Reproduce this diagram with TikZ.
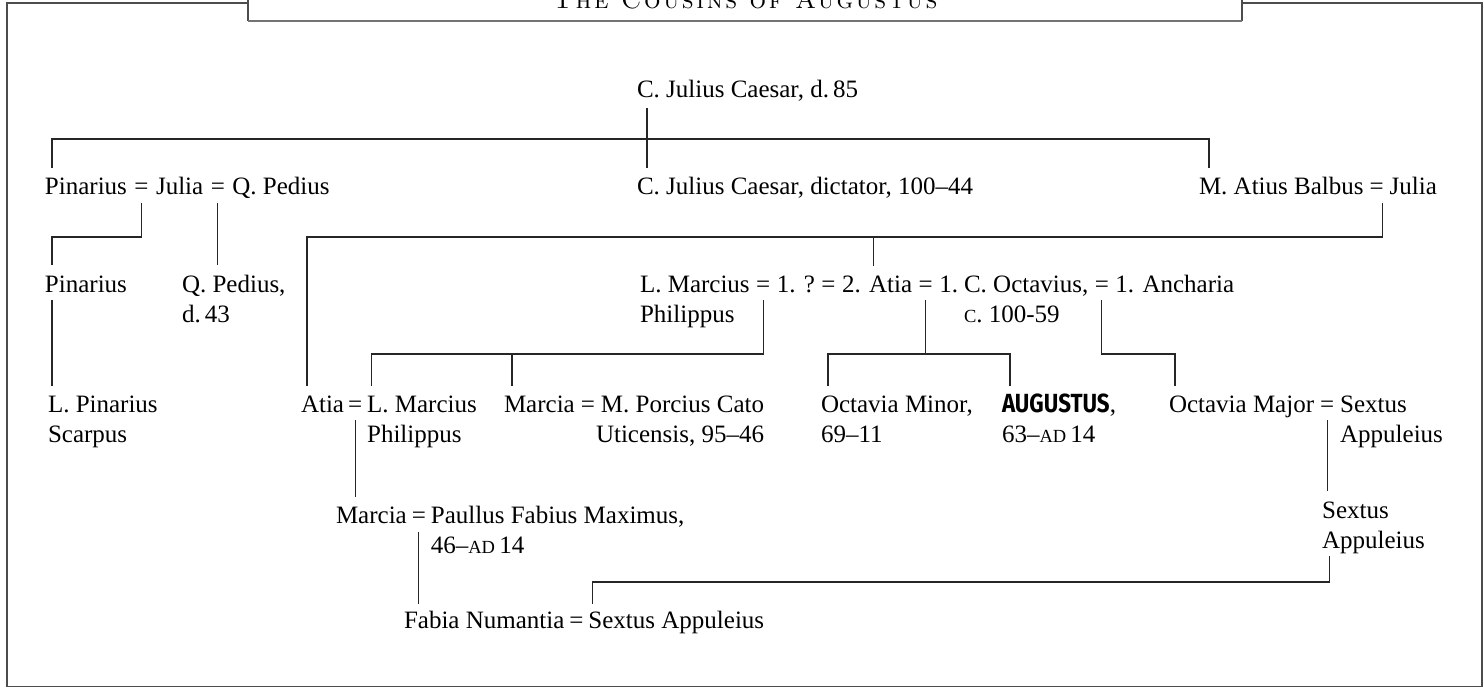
\documentclass[tikz,border=0pt]{standalone}
\usepackage{fontspec}
\setmainfont{Liberation Serif}
\newfontfamily\augfont{Fira Sans}[Scale=1.05, FakeStretch=0.85]
\newfontfamily\titlefont{lmromancaps10-regular}[Extension=.otf, LetterSpace=10]
\newcommand\treefont{\fontsize{25}{30.5}\selectfont}
% small capitals for era marks and circa
\newcommand\smc[1]{{\fontsize{18.5}{20}\selectfont #1}}
% two-line entries, first baseline on the node's base
\newcommand\two[2]{\begin{tabular}[t]{@{}l@{}}#1\\#2\end{tabular}}
\newcommand\twor[2]{\begin{tabular}[t]{@{}r@{}}#1\\#2\end{tabular}}
\begin{document}
\begin{tikzpicture}[x=1pt,y=-1pt,
  txt/.style={anchor=base west, inner sep=0pt, outer sep=0pt, font=\treefont},
  ln/.style={draw=black!85, line width=1.1pt},
  frm/.style={draw=black!70, line width=1.2pt},
  bar/.style={draw=black!55, line width=2pt}]
\useasboundingbox (0,0) rectangle (1484,688);
\clip (0,0) rectangle (1484,688);

% frame and title tab
\draw[frm] (248,3) -- (7,3) -- (7,686.5) -- (1482,686.5) -- (1482,3) -- (1242,3);
\draw[frm] (248,-5) -- (248,20.5);
\draw[frm] (1242,-5) -- (1242,20.5);
\draw[bar] (248,20.5) -- (1242,20.5);
\node[anchor=base, inner sep=0pt] (title) at (745,9)
  {\titlefont\fontsize{26}{30}\selectfont The Cousins of Augustus};

% generation 0
\node[txt] (cjc) at (637,97) {C. Julius Caesar, d.\,85};

% generation 1
\node[txt] (pinA) at (45,194) {Pinarius};
\node[txt] (eqPJ) at ([xshift=7.5pt]pinA.base east) {=};
\node[txt] (juliaA) at ([xshift=7.5pt]eqPJ.base east) {Julia};
\node[txt] (eqJQ) at ([xshift=7.5pt]juliaA.base east) {=};
\node[txt] (qpA) at ([xshift=7.5pt]eqJQ.base east) {Q. Pedius};
\node[txt] (dict) at (637,194) {C. Julius Caesar, dictator, 100--44};
\node[txt] (balbus) at (1199,194) {M. Atius Balbus};
\node[txt] (eqBJ) at ([xshift=6pt]balbus.base east) {=};
\node[txt] (juliaB) at ([xshift=6pt]eqBJ.base east) {Julia};

% generation 2
\node[txt] (pinB) at (45,292) {Pinarius};
\node[txt] (qpB) at (182,292) {\two{Q. Pedius,}{d.\,43}};
\node[txt] (philA) at (640,292) {\two{L. Marcius}{Philippus}};
\node[txt] (eqL1) at ([xshift=6.5pt]philA.base east) {=};
\node[txt] (anon) at ([xshift=6.5pt]eqL1.base east) {1. ?};
\node[txt] (eqL2) at ([xshift=6.5pt]anon.base east) {=};
\node[txt] (atiaB) at ([xshift=6.5pt]eqL2.base east) {2. Atia};
\node[txt] (eqAO) at ([xshift=6.5pt]atiaB.base east) {=};
\node[txt] (octN) at ([xshift=6.5pt]eqAO.base east) {1.};
\node[txt] (octB) at ([xshift=6pt]octN.base east) {\two{C. Octavius,}{\smc{C}. 100-59}};
\node[txt] (eqOA) at ([xshift=6.5pt]octB.base east) {=};
\node[txt] (anch) at ([xshift=6.5pt]eqOA.base east) {1. Ancharia};

% generation 3
\node[txt] (lpin) at (48,412) {\two{L. Pinarius}{Scarpus}};
\node[txt] (atiaC) at (301,412) {Atia};
\node[txt] (eqAP) at ([xshift=4pt]atiaC.base east) {=};
\node[txt] (philB) at ([xshift=5pt]eqAP.base east) {\two{L. Marcius}{Philippus}};
\node[txt] (marA) at (504,412) {Marcia};
\node[txt] (eqMC) at ([xshift=6pt]marA.base east) {=};
\node[txt] (cato) at ([xshift=6pt]eqMC.base east)
  {\twor{M. Porcius Cato}{\makebox[0pt][r]{Uticensis, 95--46}}};
\node[txt] (omin) at (821,412) {\two{Octavia Minor,}{69--11}};
\node[txt] (aug) at (1002,412) {\two{{\augfont\bfseries AUGUSTUS},}{63--\smc{AD}\,14}};
\node[txt] (omaj) at (1169,412) {Octavia Major};
\node[txt] (eqOS) at ([xshift=6pt]omaj.base east) {=};
\node[txt] (sexA) at ([xshift=6pt]eqOS.base east) {\two{Sextus}{Appuleius}};

% generation 4
\node[txt] (marB) at (336,523) {Marcia};
\node[txt] (eqMP) at ([xshift=5pt]marB.base east) {=};
\node[txt] (paul) at ([xshift=5pt]eqMP.base east) {\two{Paullus Fabius Maximus,}{46--\smc{AD}\,14}};
\path (eqOS.base) ++(-5,106) node[txt] (sexB) {\two{Sextus}{Appuleius}};

% generation 5
\node[txt] (fabia) at (404,628) {Fabia Numantia};
\node[txt] (eqFS) at ([xshift=5pt]fabia.base east) {=};
\node[txt] (sexC) at ([xshift=5pt]eqFS.base east) {Sextus Appuleius};

% descent lines: generation 0 to 1
\draw[ln] ([xshift=10pt,yshift=-11pt]cjc.base west) -- ([xshift=10pt,yshift=26pt]dict.base west);
\draw[ln] ([xshift=7pt,yshift=26pt]pinA.base west) -- ++(0,-29) -| ([xshift=10pt,yshift=26pt]balbus.base west);

% generation 1 to 2
\draw[ln] ([yshift=-9pt]eqPJ.base) -- ++(0,34) -| ([xshift=7pt,yshift=27pt]pinB.base west);
\draw[ln] ([yshift=-9pt]eqJQ.base) -- ++(0,62);
\draw[ln] ([xshift=-1pt,yshift=-9pt]eqBJ.base east) -- ++(0,34) -| ([xshift=6pt,yshift=26pt]atiaC.base west);
\draw[ln] ([xshift=31pt,yshift=26pt]atiaB.base west) -- ++(0,-29);

% generation 2 to 3
\draw[ln] ([xshift=7pt,yshift=-8pt]pinB.base west) -- ([xshift=4pt,yshift=26pt]lpin.base west);
\draw[ln] ([yshift=-8pt]eqL1.base) -- ++(0,54) -| ([xshift=4pt,yshift=26pt]philB.base west);
\draw[ln] ([xshift=8pt,yshift=26pt]marA.base west) -- ++(0,-32);
\draw[ln] ([yshift=-8pt]eqAO.base) -- ++(0,54);
\draw[ln] ([xshift=7pt,yshift=26pt]omin.base west) -- ++(0,-32) -| ([xshift=8pt,yshift=26pt]aug.base west);
\draw[ln] ([yshift=-8pt]eqOA.base) -- ++(0,54) -| ([xshift=6pt,yshift=26pt]omaj.base west);

% generation 3 to 4
\draw[ln] ([yshift=-8pt]eqAP.base) -- ++(0,77);
\draw[ln] ([yshift=-8pt]eqOS.base) -- ++(0,71);

% generation 4 to 5
\draw[ln] ([yshift=-9pt]eqMP.base) -- ++(0,72);
\draw[ln] ([xshift=7pt,yshift=-38pt]sexB.base west) -- ++(0,26) -| ([xshift=4pt,yshift=24pt]sexC.base west);
\end{tikzpicture}
\end{document}
